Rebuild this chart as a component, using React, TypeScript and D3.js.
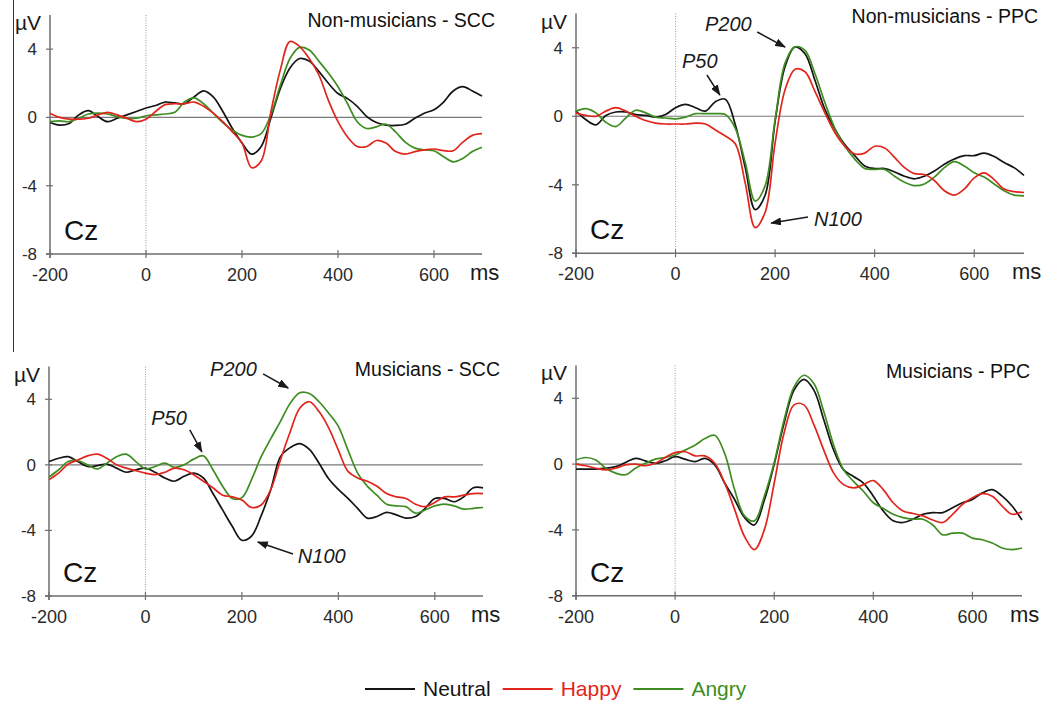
import React, { useEffect, useRef } from 'react';
import * as d3 from 'd3';

// sample times (ms)
const times = [
  -200, -180, -160, -140, -120, -100, -80, -60, -40, -20,
  0, 20, 40, 60, 80, 100, 120, 140, 160, 180,
  200, 220, 240, 260, 280, 300, 320, 340, 360, 380,
  400, 420, 440, 460, 480, 500, 520, 540, 560, 580,
  600, 620, 640, 660, 680, 700,
];

// Non-musicians - SCC
const nmSccNeutral = [
  -0.3, -0.45, -0.35, 0.15, 0.4, 0.05, -0.25, -0.05, 0.15, 0.35,
  0.55, 0.7, 0.9, 0.85, 0.8, 1.2, 1.55, 1.2, 0.35, -0.65,
  -1.5, -2.15, -1.7, -0.05, 1.7, 2.9, 3.45, 3.3, 2.7, 2.0,
  1.4, 1.1, 0.65, 0.05, -0.3, -0.45, -0.47, -0.4, -0.05, 0.25,
  0.45, 0.9, 1.55, 1.8, 1.55, 1.25,
];
const nmSccHappy = [
  0.25, 0, -0.1, -0.1, -0.05, 0.15, 0.3, 0.15, -0.05, -0.25,
  -0.1, 0.35, 0.75, 0.8, 0.8, 0.9, 0.65, 0.25, -0.25, -0.85,
  -1.5, -2.95, -2.55, 0.3, 2.8, 4.45, 4.15, 3.45, 2.5, 1.0,
  -0.25, -1.15, -1.7, -1.7, -1.35, -1.5, -2.0, -2.15, -2.0, -1.9,
  -1.85, -1.95, -1.95, -1.45, -1.05, -0.95,
];
const nmSccAngry = [
  -0.25, -0.2, -0.25, -0.05, 0.2, 0.25, 0.2, 0.05, -0.05, -0.05,
  0.1, 0.15, 0.2, 0.3, 0.9, 1.15, 0.8, 0.25, -0.3, -0.75,
  -1.05, -1.15, -0.95, 0.15, 1.9, 3.45, 4.1, 3.95, 3.3, 2.6,
  1.8, 0.8, -0.25, -0.65, -0.55, -0.4, -0.85, -1.45, -1.8, -1.9,
  -1.95, -2.3, -2.6, -2.4, -2.0, -1.75,
];

// Non-musicians - PPC
const nmPpcNeutral = [
  0.3, -0.2, -0.5, 0.05, 0.25, 0.25, 0.1, 0.05, -0.05, 0.1,
  0.5, 0.7, 0.5, 0.3, 0.85, 1.0, -0.5, -3.0, -5.45, -4.6,
  -0.3, 2.9, 4.05, 3.65, 2.1, 0.4, -0.75, -1.65, -2.3, -2.9,
  -3.05, -3.05, -3.25, -3.5, -3.65, -3.5, -3.2, -2.8, -2.5, -2.3,
  -2.3, -2.15, -2.35, -2.7, -3.0, -3.45,
];
const nmPpcHappy = [
  0.2, 0.05, 0, 0.3, 0.5, 0.3, 0, -0.25, -0.4, -0.45,
  -0.45, -0.45, -0.4, -0.45, -0.8, -1.15, -1.6, -3.9, -6.5, -5.6,
  -1.55, 1.55, 2.75, 2.6, 1.45, 0.2, -0.95, -1.75, -2.2, -2.15,
  -1.75, -1.85, -2.4, -3.0, -3.35, -3.4, -3.75, -4.35, -4.6, -4.25,
  -3.6, -3.3, -3.7, -4.25, -4.4, -4.45,
];
const nmPpcAngry = [
  0.3, 0.45, 0.2, -0.35, -0.6, -0.1, 0.35, 0.2, -0.05, -0.1,
  -0.15, -0.05, 0.15, 0.15, 0.15, 0.1, -0.7, -2.7, -4.95, -4.05,
  -0.2, 3.1, 4.05, 3.85, 2.5, 0.8, -0.7, -1.75, -2.5, -3.05,
  -3.1, -3.1, -3.5, -3.85, -4.05, -3.95, -3.55, -3.0, -2.65, -2.9,
  -3.3, -3.55, -3.95, -4.35, -4.6, -4.65,
];

// Musicians - SCC
const mSccNeutral = [
  0.2, 0.4, 0.5, 0.2, -0.1, -0.05, 0.05, -0.2, -0.45, -0.3,
  -0.2, -0.45, -0.8, -1.0, -0.7, -0.5, -0.8, -1.75, -2.75, -3.75,
  -4.6, -4.35, -3.1, -1.5, 0.5, 1.05, 1.3, 0.95, 0.1, -0.85,
  -1.5, -2.05, -2.65, -3.25, -3.15, -2.9, -3.05, -3.25, -3.15, -2.65,
  -2.05, -2.05, -2.25, -1.95, -1.4, -1.4,
];
const mSccHappy = [
  -0.9, -0.5, 0.05, 0.3, 0.55, 0.65, 0.4, 0, -0.2, -0.35,
  -0.5, -0.6, -0.45, -0.2, -0.3, -0.6, -1.0, -1.4, -1.85, -1.95,
  -2.15, -2.6, -2.45, -1.5, 0.3, 2.0, 3.45, 3.85, 3.25, 2.25,
  0.9, -0.4, -0.8, -1.0, -1.3, -1.75, -1.95, -2.05, -2.4, -2.55,
  -2.3, -1.95, -1.95, -1.85, -1.75, -1.75,
];
const mSccAngry = [
  -0.75, -0.3, 0.2, 0.25, 0, -0.25, 0.1, 0.5, 0.65, 0.2,
  -0.25, -0.1, 0.1, -0.15, 0, 0.35, 0.55, -0.3, -1.3, -2.05,
  -2.0, -0.9, 0.5, 1.6, 2.65, 3.75, 4.4, 4.35, 3.85, 3.15,
  2.35, 0.9, -0.5, -1.3, -1.85, -2.4, -2.5, -2.55, -2.95, -2.75,
  -2.5, -2.4, -2.5, -2.7, -2.65, -2.6,
];

// Musicians - PPC
const mPpcNeutral = [
  -0.3, -0.3, -0.3, -0.25, -0.15, 0.1, 0.35, 0.2, 0.05, 0.2,
  0.45, 0.3, 0.15, 0.35, -0.05, -1.15, -2.15, -3.25, -3.7, -2.2,
  0.0, 2.5, 4.5, 5.15, 4.5, 2.7, 0.85, -0.35, -0.75, -1.15,
  -1.95, -2.85, -3.45, -3.55, -3.35, -3.05, -2.95, -2.95, -2.65, -2.35,
  -2.15, -1.75, -1.55, -1.95, -2.55, -3.4,
];
const mPpcHappy = [
  0, -0.1, -0.25, -0.35, -0.25, -0.05, 0, -0.1, 0.05, 0.4,
  0.7, 0.75, 0.5, 0.5, 0.05, -1.15, -2.75, -4.4, -5.2, -4.0,
  -1.15, 1.9, 3.6, 3.6, 2.4, 0.85, -0.55, -1.25, -1.45, -1.25,
  -1.0, -1.55, -2.35, -2.85, -3.0, -3.15, -3.4, -3.55, -3.05, -2.45,
  -2.05, -1.8, -1.95, -2.55, -3.05, -2.9,
];
const mPpcAngry = [
  0.25, 0.4, 0.25, -0.25, -0.55, -0.65, -0.25, 0.05, 0.3, 0.4,
  0.55, 0.85, 1.15, 1.55, 1.75, 0.65, -1.55, -3.15, -3.45, -1.95,
  0.1, 2.7, 4.7, 5.4, 4.9, 3.2, 1.15, -0.35, -1.05, -1.65,
  -2.35, -2.7, -3.05, -3.25, -3.35, -3.35, -3.7, -4.3, -4.2, -4.2,
  -4.5, -4.6, -4.8, -5.1, -5.2, -5.1,
];

const conditions = ['Neutral', 'Happy', 'Angry'];
const conditionColors = ['#141414', '#e2251c', '#3e8d21'];
const xTicks = [-200, 0, 200, 400, 600];
const yTicks = [4, 0, -4, -8];

const panels = [
  {
    title: 'Non-musicians - SCC',
    series: [nmSccNeutral, nmSccHappy, nmSccAngry],
    box: { left: 50, right: 482, top: 15, bottom: 254 },
    titleAt: [495, 27],
    notes: [],
  },
  {
    title: 'Non-musicians - PPC',
    series: [nmPpcNeutral, nmPpcHappy, nmPpcAngry],
    box: { left: 576, right: 1024, top: 13.5, bottom: 253.3 },
    titleAt: [1038, 23],
    notes: [
      { text: 'P200', at: [59, 5.0], from: [164, 4.92], to: [220, 4.04] },
      { text: 'P50', at: [13, 2.82], from: [63, 2.41], to: [89, 1.24] },
      { text: 'N100', at: [278, -6.41], from: [266, -5.88], to: [192, -6.23] },
    ],
  },
  {
    title: 'Musicians - SCC',
    series: [mSccNeutral, mSccHappy, mSccAngry],
    box: { left: 49, right: 483, top: 366.5, bottom: 596 },
    titleAt: [500, 376],
    notes: [
      { text: 'P200', at: [134, 5.42], from: [244, 5.55], to: [296, 4.69] },
      { text: 'P50', at: [12, 2.43], from: [92, 2.13], to: [117, 0.79] },
      { text: 'N100', at: [316, -5.99], from: [306, -5.44], to: [233, -4.71] },
    ],
  },
  {
    title: 'Musicians - PPC',
    series: [mPpcNeutral, mPpcHappy, mPpcAngry],
    box: { left: 576, right: 1022, top: 365.4, bottom: 595.7 },
    titleAt: [1030, 378],
    notes: [],
  },
];

const FONT = "'Liberation Sans', Arial, Helvetica, sans-serif";

const App = () => {
  const svgRef = useRef(null);

  useEffect(() => {
    const svg = d3.select(svgRef.current);
    svg.selectAll('*').remove();

    // arrowhead marker
    svg
      .append('defs')
      .append('marker')
      .attr('id', 'arrow')
      .attr('markerUnits', 'userSpaceOnUse')
      .attr('markerWidth', 11)
      .attr('markerHeight', 8)
      .attr('refX', 10)
      .attr('refY', 4)
      .attr('orient', 'auto')
      .append('path')
      .attr('d', 'M0,0 L11,4 L0,8 Z')
      .attr('fill', '#1a1a1a');

    // stray frame line at the left edge
    svg
      .append('line')
      .attr('x1', 13.5)
      .attr('x2', 13.5)
      .attr('y1', 0)
      .attr('y2', 352)
      .attr('stroke', '#333')
      .attr('stroke-width', 1);

    panels.forEach((p) => {
      const { left, right, top, bottom } = p.box;
      const x = d3.scaleLinear().domain([-200, 700]).range([left, right]);
      const y = d3.scaleLinear().domain([-8, 6]).range([bottom, top]);
      const g = svg.append('g');

      // dotted stimulus onset line
      g.append('line')
        .attr('x1', x(0))
        .attr('x2', x(0))
        .attr('y1', top)
        .attr('y2', bottom)
        .attr('stroke', '#9a9a9a')
        .attr('stroke-width', 1)
        .attr('stroke-dasharray', '1,1.5');

      // zero line
      g.append('line')
        .attr('x1', left)
        .attr('x2', right)
        .attr('y1', y(0))
        .attr('y2', y(0))
        .attr('stroke', '#7a7a7a')
        .attr('stroke-width', 1.2);

      // axes
      const axisColor = '#6e6e6e';
      g.append('line')
        .attr('x1', left)
        .attr('x2', left)
        .attr('y1', top)
        .attr('y2', bottom + 4)
        .attr('stroke', axisColor)
        .attr('stroke-width', 1.5);
      g.append('line')
        .attr('x1', left - 4)
        .attr('x2', right)
        .attr('y1', bottom)
        .attr('y2', bottom)
        .attr('stroke', axisColor)
        .attr('stroke-width', 1.5);

      yTicks.forEach((v) => {
        g.append('line')
          .attr('x1', left - 4)
          .attr('x2', left + 3)
          .attr('y1', y(v))
          .attr('y2', y(v))
          .attr('stroke', axisColor)
          .attr('stroke-width', 1.2);
        g.append('text')
          .attr('x', left - 13)
          .attr('y', y(v) + 6)
          .attr('text-anchor', 'end')
          .attr('font-family', FONT)
          .attr('font-size', 17)
          .attr('fill', '#2a2a2a')
          .text(v);
      });

      xTicks.forEach((t) => {
        g.append('line')
          .attr('x1', x(t))
          .attr('x2', x(t))
          .attr('y1', bottom - 4)
          .attr('y2', bottom + 4)
          .attr('stroke', axisColor)
          .attr('stroke-width', 1.2);
        g.append('text')
          .attr('x', x(t))
          .attr('y', bottom + 27)
          .attr('text-anchor', 'middle')
          .attr('font-family', FONT)
          .attr('font-size', 18)
          .attr('fill', '#2a2a2a')
          .text(t);
      });

      // axis units and electrode label
      g.append('text')
        .attr('x', left - 35)
        .attr('y', top + 15)
        .attr('font-family', FONT)
        .attr('font-size', 21)
        .attr('fill', '#1a1a1a')
        .text('µV');
      g.append('text')
        .attr('x', right - 12)
        .attr('y', bottom + 26)
        .attr('font-family', FONT)
        .attr('font-size', 22)
        .attr('fill', '#1a1a1a')
        .text('ms');
      g.append('text')
        .attr('x', left + 14)
        .attr('y', bottom - 14)
        .attr('font-family', FONT)
        .attr('font-size', 28)
        .attr('fill', '#111')
        .text('Cz');

      // title
      g.append('text')
        .attr('x', p.titleAt[0])
        .attr('y', p.titleAt[1])
        .attr('text-anchor', 'end')
        .attr('font-family', FONT)
        .attr('font-size', 19.5)
        .attr('fill', '#111')
        .text(p.title);

      // ERP waveforms
      const line = d3
        .line()
        .x((d) => x(d[0]))
        .y((d) => y(d[1]))
        .curve(d3.curveCatmullRom.alpha(0.5));

      [0, 2, 1].forEach((i) => {
        g.append('path')
          .datum(times.map((t, k) => [t, p.series[i][k]]))
          .attr('d', line)
          .attr('fill', 'none')
          .attr('stroke', conditionColors[i])
          .attr('stroke-width', 1.7);
      });

      // component annotations
      p.notes.forEach((n) => {
        g.append('text')
          .attr('x', x(n.at[0]))
          .attr('y', y(n.at[1]))
          .attr('font-family', FONT)
          .attr('font-size', 20)
          .attr('font-style', 'italic')
          .attr('fill', '#1a1a1a')
          .text(n.text);
        g.append('line')
          .attr('x1', x(n.from[0]))
          .attr('y1', y(n.from[1]))
          .attr('x2', x(n.to[0]))
          .attr('y2', y(n.to[1]))
          .attr('stroke', '#1a1a1a')
          .attr('stroke-width', 1.5)
          .attr('marker-end', 'url(#arrow)');
      });
    });

    // legend
    const legend = svg.append('g');
    let lx = 365;
    conditions.forEach((c, i) => {
      legend
        .append('line')
        .attr('x1', lx)
        .attr('x2', lx + 50)
        .attr('y1', 689)
        .attr('y2', 689)
        .attr('stroke', conditionColors[i])
        .attr('stroke-width', 2);
      const label = legend
        .append('text')
        .attr('x', lx + 58)
        .attr('y', 696)
        .attr('font-family', FONT)
        .attr('font-size', 21)
        .attr('fill', conditionColors[i])
        .text(c);
      lx += 58 + label.node().getComputedTextLength() + 12;
    });
  }, []);

  return (
    <svg
      ref={svgRef}
      width={1043}
      height={701}
      style={{ position: 'absolute', left: 0, top: 0, background: '#fff' }}
    />
  );
};

export default App;
